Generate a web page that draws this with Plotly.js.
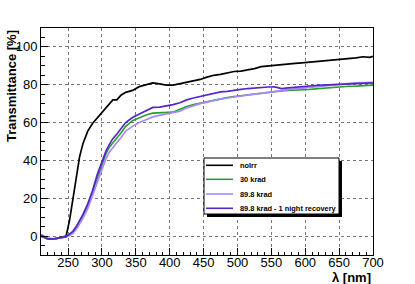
<!DOCTYPE html>
<html>
<head>
<meta charset="utf-8">
<script src="https://cdn.plot.ly/plotly-3.0.1.min.js"></script>
<style>html,body{margin:0;padding:0;background:#fff;} #chart{width:415px;height:284px;}</style>
</head>
<body>
<div id="chart"></div>
<script>
// Wavelength grid (nm)
const wavelength = [210,220,230,240,247,252,257,262,267,272,279,286,293,300,306,311,316,322,328,335,345,355,365,375,385,395,405,415,425,435,445,455,465,475,485,495,505,515,525,535,545,555,565,575,585,595,605,615,625,635,645,655,665,675,685,695,700];

// Transmittance [%] per series
const noIrr = [0,-1.5,-1.5,-0.8,0,8,19,32,42,49,55.5,59.5,62.5,65.5,68,70,72,72,74.5,76,77,79,80,81,80.5,79.8,79.8,80.5,81.3,82,82.8,84,85,85.5,86.2,87,87.2,87.8,88.5,89.6,90,90.3,90.6,91,91.3,91.6,91.9,92.3,92.7,93,93.4,93.8,94,94.2,94.8,94.5,95];
const krad30 = [0,-1.5,-1.5,-1,-0.3,0.8,2,4.5,7.5,11,16.5,23.5,31.5,38.5,43.7,47,49.5,52,54.5,58,61,62.7,64,65,65.2,65.2,65.5,67,68.5,69.5,70.3,71,72,72.6,73.2,73.8,74.2,74.8,75.3,75.7,76.2,76.6,76.8,77,77.1,77.3,77.5,77.8,78.1,78.5,78.8,79,79.2,79.3,79.5,79.6,79.8];
const krad898 = [1,-1,-1.5,-1,-0.5,0.3,1.5,3.5,6.5,9.5,14.5,21.5,29,35.5,41,44.5,47,49.5,52,55.5,58,60,61.5,63,63.8,64.5,65,66,67.8,69,70,70.8,71.8,72.5,73,73.6,74,74.5,75,75.4,76,76.6,77,77.4,77.8,78.2,78.6,79,79.3,79.7,80.1,80.4,80.7,81,81.2,81.3,81.3];
const krad898Rec = [0.5,-1.5,-1.5,-1,-0.3,1,2.5,5,8,11.5,17,24,32.5,39.5,45,48.5,51.5,54,56.5,60,62.7,64.5,66,68,68.2,68.7,69.5,70.5,72,73,73.8,74.5,75.5,76.2,76.5,77.2,77.6,78,78.4,78.7,78.8,78.9,78,78.3,78.7,79,79.4,79.6,79.8,80,80.2,80.4,80.5,80.6,80.8,81,81];

const seriesNames = ["noIrr","30 krad","89.8 krad","89.8 krad - 1 night recovery"];
const seriesColors = ["#000000","#2ca02c","#a987ff","#5428c4"];
const seriesValues = [noIrr, krad30, krad898, krad898Rec];

const W = 415, H = 284;
const M = {l:41, r:42, t:28, b:29};
const pw = W - M.l - M.r, ph = H - M.t - M.b;
const px = x => (x - M.l) / pw;
const py = y => (H - M.b - y) / ph;

const traces = seriesValues.map((v,i) => ({
  x: wavelength, y: v, type: 'scatter', mode: 'lines',
  name: seriesNames[i], showlegend: false,
  line: {color: seriesColors[i], width: 1.7}
}));

const font = {family: 'Liberation Sans, Arial, sans-serif', size: 13, color: '#000'};
const legFont = {family: 'Liberation Sans, Arial, sans-serif', size: 7.4, color: '#000', weight: 'bold'};

const shapes = [
  {type:'rect', xref:'paper', yref:'paper', x0:px(207), x1:px(342), y0:py(161), y1:py(217), fillcolor:'#000', line:{width:0}, layer:'above'},
  {type:'rect', xref:'paper', yref:'paper', x0:px(204), x1:px(339), y0:py(158), y1:py(214), fillcolor:'#fff', line:{color:'#000', width:1}, layer:'above'}
];
const rowY = [165.3, 179.3, 194, 208.3];
const annotations = [];
seriesNames.forEach((n,i) => {
  shapes.push({type:'line', xref:'paper', yref:'paper', x0:px(206), x1:px(233), y0:py(rowY[i]), y1:py(rowY[i]), line:{color:seriesColors[i], width:1.6}, layer:'above'});
  annotations.push({xref:'paper', yref:'paper', x:px(238), y:py(rowY[i]), text:n, showarrow:false, xanchor:'left', yanchor:'middle', font:legFont});
});
annotations.push({xref:'paper', yref:'paper', x:px(11), y:py(28), text:'Transmittance [%]', textangle:-90, showarrow:false, xanchor:'center', yanchor:'top', font:{family:font.family, size:13, color:'#000', weight:'bold'}});
annotations.push({xref:'paper', yref:'paper', x:px(373), y:py(277), text:'λ [nm]', showarrow:false, xanchor:'right', yanchor:'middle', font:{family:font.family, size:13, color:'#000', weight:'bold'}});

const axisCommon = {
  showline: true, linecolor: '#000', linewidth: 1, mirror: true,
  ticks: 'inside', ticklen: 7, tickcolor: '#000', tickwidth: 1,
  showgrid: true, gridcolor: '#777', griddash: 'dot', gridwidth: 1,
  zeroline: false, tickfont: font
};

const layout = {
  width: W, height: H,
  margin: {l: M.l, r: M.r, t: M.t, b: M.b, pad: 0},
  paper_bgcolor: '#fff', plot_bgcolor: '#fff',
  showlegend: false,
  xaxis: Object.assign({}, axisCommon, {
    range: [210, 700], tick0: 250, dtick: 50, ticklabelstandoff: -5,
    minor: {dtick: 10, ticks: 'inside', ticklen: 3.5, tickcolor: '#000', showgrid: false}
  }),
  yaxis: Object.assign({}, axisCommon, {
    range: [-10, 110], tick0: 0, dtick: 20,
    minor: {dtick: 5, ticks: 'inside', ticklen: 3.5, tickcolor: '#000', showgrid: false}
  }),
  shapes: shapes,
  annotations: annotations
};

Plotly.newPlot('chart', traces, layout, {staticPlot: true, displayModeBar: false});
</script>
</body>
</html>
